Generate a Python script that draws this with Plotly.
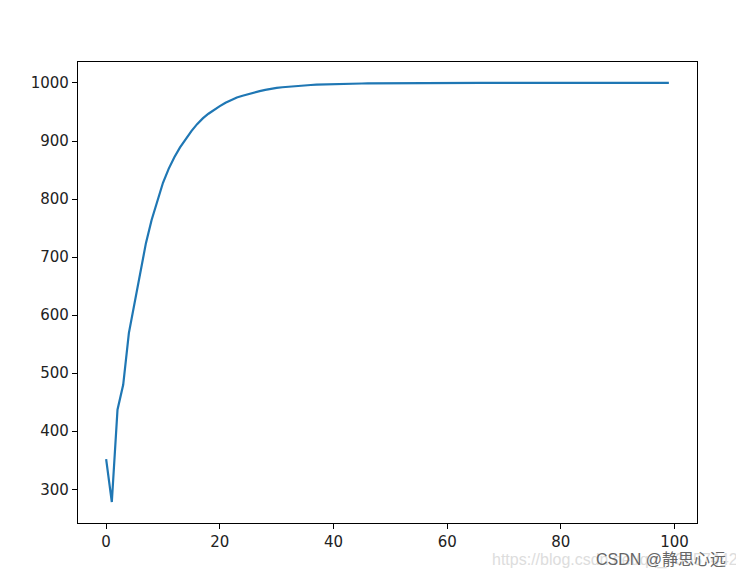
import plotly.graph_objects as go

# iteration index and value
steps = list(range(100))
values = [
    352, 278, 437, 480, 569, 622, 677, 724, 764, 798,
    828, 852, 872, 889, 904, 917, 929, 939, 947, 954,
    960, 966, 971, 975, 978, 981, 984, 986, 988, 990,
    991.4, 992.6, 993.6, 994.5, 995.3, 996.0, 996.5, 997.0, 997.4, 997.8,
    998.1, 998.4, 998.6, 998.8, 999.0, 999.1, 999.2, 999.3, 999.4, 999.5,
    999.6, 999.6, 999.7, 999.7, 999.8, 999.8, 999.8, 999.9, 999.9, 999.9,
    1000, 1000, 1000, 1000, 1000, 1000, 1000, 1000, 1000, 1000,
    1000, 1000, 1000, 1000, 1000, 1000, 1000, 1000, 1000, 1000,
    1000, 1000, 1000, 1000, 1000, 1000, 1000, 1000, 1000, 1000,
    1000, 1000, 1000, 1000, 1000, 1000, 1000, 1000, 1000, 1000,
]
x_ticks = [0, 20, 40, 60, 80, 100]
y_ticks = [300, 400, 500, 600, 700, 800, 900, 1000]

fig = go.Figure()
fig.add_trace(go.Scatter(
    x=steps, y=values,
    mode='lines',
    line=dict(color='#1f77b4', width=2.2),
    showlegend=False
))

axis_style = dict(
    showline=True, linecolor='black', linewidth=1.2, mirror=True,
    ticks='outside', ticklen=5, tickwidth=1.2, tickcolor='black',
    showgrid=False, zeroline=False,
    tickfont=dict(family='DejaVu Sans', size=15, color='#222222')
)

# page body adds ~8px offset, so margins are shifted to compensate
fig.update_layout(
    width=744, height=580,
    margin=dict(l=70, r=55, t=54, b=65),
    paper_bgcolor='white', plot_bgcolor='white',
    xaxis=dict(range=[-4.95, 103.95], tickvals=x_ticks, **axis_style),
    yaxis=dict(range=[241.9, 1036.1], tickvals=y_ticks, **axis_style),
)

# blog watermark
fig.add_annotation(
    text='https://blog.csdn.net/qq_43657442', xref='paper', yref='paper',
    x=1.07, y=-0.08, xanchor='right', yanchor='middle', showarrow=False,
    font=dict(family='Liberation Sans', size=16, color='#dddddd')
)
fig.add_annotation(
    text='CSDN @静思心远', xref='paper', yref='paper',
    x=1.05, y=-0.08, xanchor='right', yanchor='middle', showarrow=False,
    font=dict(family='Liberation Sans, Noto Sans CJK SC', size=16, color='#666666')
)

fig.write_html("out.html")
